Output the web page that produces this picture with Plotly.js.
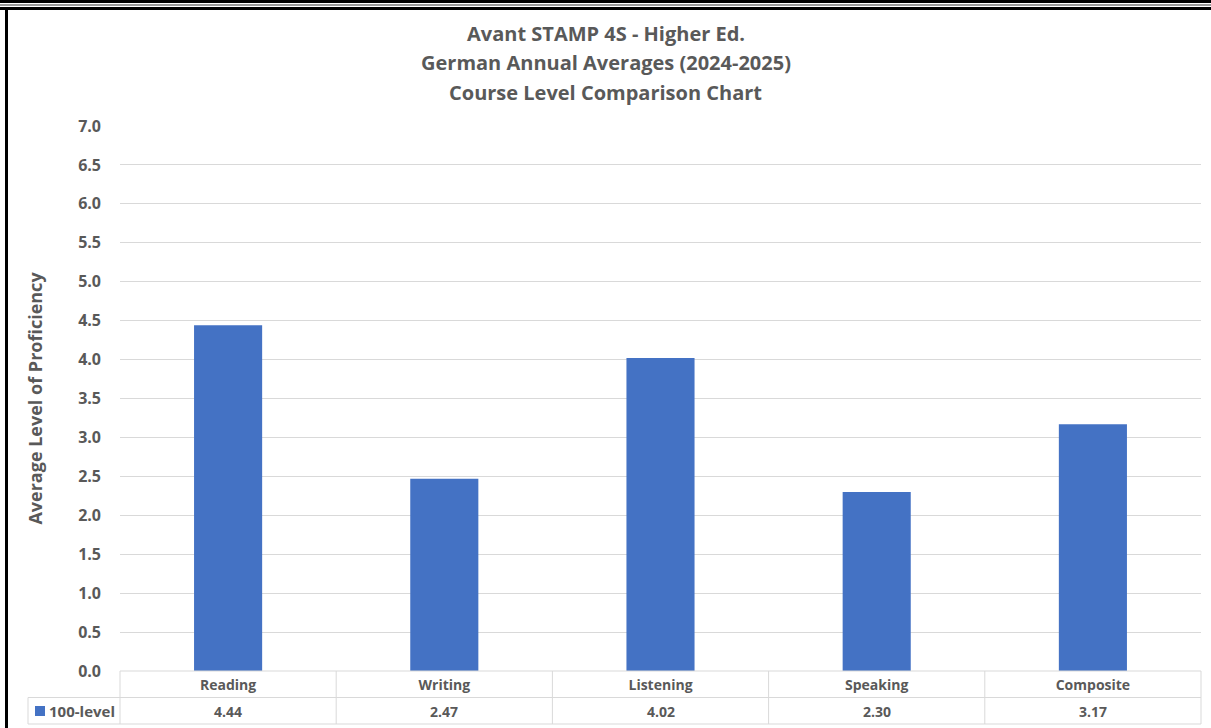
<!DOCTYPE html>
<html>
<head>
<meta charset="utf-8">
<script src="https://cdn.plot.ly/plotly-3.0.1.min.js"></script>
<style>
  html, body { margin:0; padding:0; background:#fff; }
  #wrap { position:relative; width:1211px; height:728px; overflow:hidden; }
  #chart { position:absolute; left:0; top:0; width:1211px; height:728px; }
  .ln { position:absolute; }
</style>
</head>
<body>
<div id="wrap">
  <div id="chart"></div>
  <div class="ln" style="left:0;top:0;width:1211px;height:3px;background:#000"></div>
  <div class="ln" style="left:0;top:4px;width:1211px;height:2px;background:#9a9a9a"></div>
  <div class="ln" style="left:0;top:7px;width:1211px;height:3px;background:#000"></div>
  <div class="ln" style="left:5px;top:7px;width:3px;height:721px;background:#000"></div>
</div>
<script>
const titleLines = ["Avant STAMP 4S - Higher Ed.", "German Annual Averages (2024-2025)", "Course Level Comparison Chart"];
const categories = ["Reading", "Writing", "Listening", "Speaking", "Composite"];
const seriesName = "100-level";
const values = [4.44, 2.47, 4.02, 2.30, 3.17];
const yTickVals = [0, 0.5, 1, 1.5, 2, 2.5, 3, 3.5, 4, 4.5, 5, 5.5, 6, 6.5, 7];
const yTitle = "Average Level of Proficiency";

const W = 1211, H = 728;
const L = 120, R = 10, T = 126, B = 57;
const pw = W - L - R, ph = H - T - B;
const px2x = px => (px - L) / pw;
const py2y = py => (H - B - py) / ph;

const FONT = "Open Sans, sans-serif";
const GREY = "#595959";
const LINE = "#d9d9d9";
const BLUE = "#4472C4";

const trace = {
  type: "bar",
  x: categories,
  y: values,
  name: seriesName,
  marker: { color: BLUE },
  hoverinfo: "x+y",
  showlegend: false
};

// Table lines
const shapes = [];
const rowTop = py2y(671), rowMid = py2y(697.5), rowBot = py2y(724);
const colEdges = [];
for (let i = 0; i <= categories.length; i++) colEdges.push(i / categories.length);
shapes.push({type:"line", xref:"paper", yref:"paper", x0:0, x1:1, y0:rowTop, y1:rowTop, line:{color:LINE, width:1}});
shapes.push({type:"line", xref:"paper", yref:"paper", x0:px2x(28), x1:1, y0:rowMid, y1:rowMid, line:{color:LINE, width:1}});
shapes.push({type:"line", xref:"paper", yref:"paper", x0:px2x(28), x1:1, y0:rowBot, y1:rowBot, line:{color:LINE, width:1}});
colEdges.forEach(e => {
  shapes.push({type:"line", xref:"paper", yref:"paper", x0:e, x1:e, y0:rowTop, y1:rowBot, line:{color:LINE, width:1}});
});
shapes.push({type:"line", xref:"paper", yref:"paper", x0:px2x(28), x1:px2x(28), y0:rowMid, y1:rowBot, line:{color:LINE, width:1}});
// legend key square
shapes.push({type:"rect", xref:"paper", yref:"paper", x0:px2x(35), x1:px2x(45), y0:py2y(716), y1:py2y(706), fillcolor:BLUE, line:{width:0}});

const annotations = [];
const titleYs = [33, 63, 92];
titleLines.forEach((t, i) => {
  annotations.push({
    text: "<b>" + t + "</b>", xref: "paper", yref: "paper",
    x: px2x(W / 2), y: py2y(titleYs[i]), xanchor: "center", yanchor: "middle",
    showarrow: false, font: { family: FONT, size: 20, color: GREY }
  });
});
categories.forEach((c, i) => {
  annotations.push({
    text: "<b>" + values[i].toFixed(2) + "</b>", xref: "x", yref: "paper",
    x: c, y: py2y(711), xanchor: "center", yanchor: "middle",
    showarrow: false, font: { family: FONT, size: 14, color: GREY }
  });
});
annotations.push({
  text: '<b>' + seriesName + '</b>',
  xref: "paper", yref: "paper", x: px2x(47), y: py2y(711),
  xanchor: "left", yanchor: "middle", showarrow: false,
  font: { family: FONT, size: 15, color: GREY }
});

const layout = {
  width: W, height: H,
  margin: { l: L, r: R, t: T, b: B, pad: 0 },
  paper_bgcolor: "#fff", plot_bgcolor: "#fff",
  bargap: 0.685,
  font: { family: FONT, color: GREY },
  xaxis: {
    type: "category",
    showgrid: false, zeroline: false, showline: false,
    ticks: "", ticklabelstandoff: 4,
    tickfont: { family: FONT, size: 14, color: GREY },
    tickprefix: "<b>", ticksuffix: "</b>",
    fixedrange: true
  },
  yaxis: {
    range: [0, 7], tickvals: yTickVals,
    ticktext: yTickVals.map(v => "<b>" + v.toFixed(1) + "</b>"),
    showgrid: true, gridcolor: LINE, gridwidth: 1,
    zeroline: false, showline: false, ticks: "",
    ticklabelstandoff: 18,
    tickfont: { family: FONT, size: 16, color: GREY },
    title: { text: "<b>" + yTitle + "</b>", font: { family: FONT, size: 18, color: GREY }, standoff: 30 },
    automargin: false, fixedrange: true
  },
  shapes: shapes,
  annotations: annotations,
  showlegend: false
};

Plotly.newPlot("chart", [trace], layout, { displayModeBar: false });
</script>
</body>
</html>
